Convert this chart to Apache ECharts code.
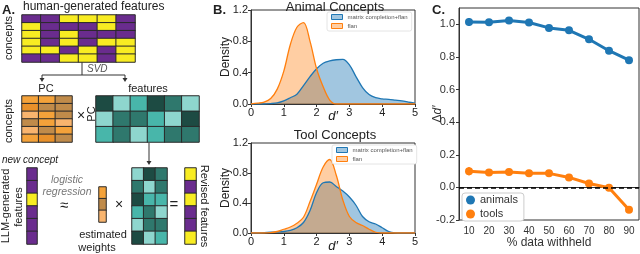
<!DOCTYPE html>
<html><head><meta charset="utf-8">
<script src="https://cdn.jsdelivr.net/npm/echarts@6/dist/echarts.min.js"></script>
<style>html,body{margin:0;padding:0;background:#fff}#c{width:640px;height:254px}</style>
</head><body><div id="c"></div>
<script>
// ---- Panel A matrices (row by row, top to bottom) ----
// binary: 0 = purple, 1 = yellow
const humanFeatures = [[0,0,1,1,1,0],[1,0,0,0,1,0],[1,0,1,0,0,0],[1,0,1,0,1,1],[1,1,0,1,0,1],[0,0,1,1,0,1]];
// orange shades: 0 light, 1 orange, 2 dark orange, 3 brown
const pcMatrix = [[1,1,3],[2,3,3],[0,1,3],[3,1,0],[0,3,1],[1,2,3]];
// teal shades: 0 dark, 1 mid, 2 turquoise, 3 light
const featMatrix = [[0,3,2,0,1,3],[3,1,1,2,3,0],[2,1,3,2,1,1]];
const llmFeatures = [0,0,1,0,0,0];
const estWeights = [1,3,0];
const featMatrix2 = [[3,0,1],[1,3,1],[0,2,2],[2,1,3],[3,1,1],[0,3,2]];
const revisedFeatures = [1,0,1,0,0,1];

// ---- Panel B densities ----
const densityX = [0,0.2,0.4,0.6,0.8,1.0,1.2,1.4,1.6,1.8,2.0,2.2,2.4,2.6,2.8,3.0,3.2,3.4,3.6,3.8,4.0,4.2,4.4,4.6,4.8,5.0];
const animalMC   = [0,0,0,0.005,0.015,0.04,0.08,0.125,0.235,0.35,0.45,0.52,0.55,0.565,0.57,0.5,0.35,0.21,0.12,0.08,0.065,0.06,0.05,0.04,0.025,0.01];
const animalFlan = [0,0.01,0.025,0.07,0.19,0.42,0.76,0.98,1.04,0.8,0.45,0.22,0.05,0,0,0,0,0,0,0,0,0,0,0,0,0];
const toolMC     = [0,0,0.005,0.01,0.015,0.02,0.035,0.07,0.14,0.3,0.54,0.67,0.68,0.62,0.56,0.48,0.37,0.22,0.15,0.12,0.07,0.02,0.003,0,0,0];
const toolFlan   = [0,0,0,0.005,0.02,0.05,0.08,0.13,0.21,0.42,0.65,0.88,0.98,0.77,0.44,0.22,0.14,0.1,0.05,0.01,0,0,0,0,0,0];

// ---- Panel C ----
const withheld = ['10','20','30','40','50','60','70','80','90'];
const animals = [1.014,1.012,1.024,1.011,0.978,0.963,0.908,0.838,0.78];
const animalsErr = [0.025,0.012,0.01,0.01,0.01,0.01,0.01,0.01,0.01];
const tools = [0.099,0.091,0.095,0.086,0.086,0.061,0.024,-0.002,-0.137];
const toolsErr = [0.025,0.02,0.015,0.012,0.012,0.012,0.012,0.012,0.012];

const FONT = "'Liberation Sans', Arial, sans-serif";
const BLUE = '#1f77b4', ORANGE = '#ff7f0e';

function range(n){return Array.from({length:n},(_,i)=>i);}
function cells(mat){const out=[];mat.forEach((row,r)=>row.forEach((v,c)=>out.push([c,r,v])));return out;}
function col(vec){return vec.map(v=>[v]);}

const mats = [
  {m: humanFeatures, box:[22,15,113,47]},
  {m: pcMatrix, box:[22,96,50,46]},
  {m: featMatrix, box:[96,96,103,46]},
  {m: col(llmFeatures), box:[27,168,10,76]},
  {m: col(estWeights), box:[99,187,7,35]},
  {m: featMatrix2, box:[132,168,35,76]},
  {m: col(revisedFeatures), box:[185,168,11,76]}
];

const grid = [], xAxis = [], yAxis = [], series = [];
mats.forEach((o,i)=>{
  grid.push({left:o.box[0], top:o.box[1], width:o.box[2], height:o.box[3]});
  xAxis.push({gridIndex:i, type:'category', data:range(o.m[0].length), show:false});
  yAxis.push({gridIndex:i, type:'category', data:range(o.m.length), inverse:true, show:false});
  series.push({type:'heatmap', xAxisIndex:i, yAxisIndex:i, data:cells(o.m), silent:true,
    itemStyle:{borderColor:'#2a2a2a', borderWidth:1}});
});

// Panel B grids (7, 8)
const axisTxt = {fontSize:11, color:'#222', fontFamily:FONT};
function densGrid(top, height, xGap){
  grid.push({left:251, top:top, width:164, height:height, show:true, borderColor:'#333', borderWidth:1, backgroundColor:'#fff'});
  const gi = grid.length-1;
  xAxis.push({gridIndex:gi, type:'value', min:0, max:5, interval:1, splitLine:{show:false},
    axisLine:{lineStyle:{color:'#333'}}, axisTick:{length:3, lineStyle:{color:'#333'}},
    axisLabel:Object.assign({margin:3}, axisTxt), nameMoveOverlap:false,
    name:'d\u2032', nameLocation:'middle', nameGap:xGap, nameTextStyle:{fontSize:13, fontStyle:'italic', color:'#222', fontFamily:FONT, verticalAlign:'top'}});
  yAxis.push({gridIndex:gi, type:'value', min:0, max:1.2, interval:0.4, splitLine:{show:false},
    axisLine:{show:true, lineStyle:{color:'#333'}}, axisTick:{show:true, length:3, lineStyle:{color:'#333'}},
    axisLabel:Object.assign({margin:3, formatter:v=>v.toFixed(1)}, axisTxt), nameMoveOverlap:false,
    name:'Density', nameLocation:'middle', nameGap:19, nameTextStyle:{fontSize:12, color:'#222', fontFamily:FONT}});
  return gi;
}
function dens(gi, name, arr, color, fill){
  series.push({name, type:'line', xAxisIndex:gi, yAxisIndex:gi, data:densityX.map((x,i)=>[x,arr[i]]),
    smooth:0.35, symbol:'none', silent:true, color,
    lineStyle:{color, width:1.3}, areaStyle:{color:fill, opacity:1}});
}
const gA = densGrid(10, 94, 6);
dens(gA, 'matrix completion+flan', animalMC, BLUE, 'rgba(31,119,180,0.42)');
dens(gA, 'flan', animalFlan, ORANGE, 'rgba(255,127,14,0.38)');
const gT = densGrid(143, 92, 7);
dens(gT, 'matrix completion+flan', toolMC, BLUE, 'rgba(31,119,180,0.42)');
dens(gT, 'flan', toolFlan, ORANGE, 'rgba(255,127,14,0.38)');

// Panel C grid (9)
grid.push({left:459, top:8, width:180, height:215, show:true, borderColor:'#333', borderWidth:1, backgroundColor:'#fff'});
const gC = grid.length-1;
xAxis.push({gridIndex:gC, type:'category', data:withheld, boundaryGap:true,
  axisLine:{lineStyle:{color:'#333'}}, axisTick:{alignWithLabel:true, length:3, lineStyle:{color:'#333'}},
  axisLabel:{fontSize:10, color:'#333', margin:6, fontFamily:FONT}, nameMoveOverlap:false,
  name:'% data withheld', nameLocation:'middle', nameGap:17, nameTextStyle:{fontSize:12, color:'#333', fontFamily:FONT, verticalAlign:'top'}});
yAxis.push({gridIndex:gC, type:'value', min:-0.2, max:1.1, interval:0.2, splitLine:{show:false},
  axisLine:{show:true, lineStyle:{color:'#333'}}, axisTick:{show:true, length:3, lineStyle:{color:'#333'}},
  axisLabel:{fontSize:11, color:'#333', margin:4, showMaxLabel:false, fontFamily:FONT, formatter:v=>v.toFixed(1)},
  nameMoveOverlap:false,
  name:'{d|\u0394}{i|d\u2032}', nameLocation:'middle', nameGap:15,
  nameTextStyle:{rich:{d:{fontSize:12, color:'#333', fontFamily:FONT}, i:{fontSize:12, fontStyle:'italic', color:'#333', fontFamily:FONT}}}});

function errBars(vals, errs, color){
  series.push({type:'custom', xAxisIndex:gC, yAxisIndex:gC, silent:true, z:3,
    data:vals.map((v,i)=>[i, v-errs[i], v+errs[i]]),
    renderItem:(params, api)=>{
      const a = api.coord([api.value(0), api.value(1)]);
      const b = api.coord([api.value(0), api.value(2)]);
      return {type:'line', shape:{x1:a[0], y1:a[1], x2:b[0], y2:b[1]}, style:{stroke:color, lineWidth:2}};
    }});
}
series.push({name:'animals', type:'line', xAxisIndex:gC, yAxisIndex:gC, data:animals, color:BLUE,
  symbol:'circle', symbolSize:8, lineStyle:{width:3, color:BLUE}, itemStyle:{color:BLUE}, silent:true, z:4});
series.push({name:'tools', type:'line', xAxisIndex:gC, yAxisIndex:gC, data:tools, color:ORANGE,
  symbol:'circle', symbolSize:8, lineStyle:{width:3, color:ORANGE}, itemStyle:{color:ORANGE}, silent:true, z:4,
  markLine:{silent:true, symbol:'none', label:{show:false}, lineStyle:{color:'#000', type:[5,3], width:1.5},
    data:[{yAxis:0}]}});
errBars(animals, animalsErr, BLUE);
errBars(tools, toolsErr, ORANGE);

// ---- Graphic annotations for panel A ----
const g = [];
function txt(t, x, y, o){
  o = o || {};
  g.push({type:'text', x, y, rotation:o.rot||0, z:10,
    style:{text:t, x:0, y:0, fill:o.fill||'#222', align:o.align||'center', verticalAlign:'middle',
      font:(o.style||'normal')+' '+(o.weight||'normal')+' '+(o.size||11)+'px '+FONT}});
}
function ln(x1,y1,x2,y2){g.push({type:'line', shape:{x1,y1,x2,y2}, style:{stroke:'#333', lineWidth:1}});}
function head(x,y){g.push({type:'polygon', shape:{points:[[x-2.5,y-4],[x+2.5,y-4],[x,y]]}, style:{fill:'#333'}});}

txt('A.', 2, 10, {align:'left', weight:'bold', size:13});
txt('human-generated features', 23, 7, {align:'left', size:12});
txt('concepts', 9, 38, {rot:Math.PI/2, size:11});
ln(82,62,82,75); ln(42,75,125,75); ln(42,75,42,80); ln(125,75,125,80);
head(42,82); head(125,82);
txt('SVD', 87, 69, {align:'left', style:'italic', size:10, fill:'#555'});
txt('PC', 46, 89, {size:11});
txt('features', 148, 89, {size:11});
txt('concepts', 9, 121, {rot:Math.PI/2, size:11});
txt('\u00d7', 81, 116, {size:14});
txt('PC', 92, 114, {rot:Math.PI/2, size:11});
ln(149,143,149,162); head(149,165);
txt('new concept', 2, 160, {align:'left', style:'italic', size:10});
txt('LLM-generated', 6, 206, {rot:Math.PI/2, size:11});
txt('features', 19, 207, {rot:Math.PI/2, size:11});
txt('logistic', 67, 180, {style:'italic', size:10.5, fill:'#777'});
txt('regression', 67, 192, {style:'italic', size:10.5, fill:'#777'});
txt('\u2248', 64, 206, {size:15});
txt('\u00d7', 119, 205, {size:14});
txt('estimated', 103, 235, {size:11});
txt('weights', 97, 248, {size:11});
txt('=', 174, 205, {size:15});
txt('Revised features', 204, 206, {rot:-Math.PI/2, size:11});
txt('B.', 213, 10, {align:'left', weight:'bold', size:13});
txt('C.', 432, 10, {align:'left', weight:'bold', size:13});

const bLegendItems = [
  {name:'matrix completion+flan', itemStyle:{color:'rgba(31,119,180,0.42)', borderColor:BLUE, borderWidth:1}},
  {name:'flan', itemStyle:{color:'rgba(255,127,14,0.38)', borderColor:ORANGE, borderWidth:1}}
];
function bLegend(left, top){
  return {left, top, orient:'vertical', data:bLegendItems, icon:'rect', itemWidth:11, itemHeight:5, itemGap:3,
    selectedMode:false, textStyle:{fontSize:6, color:'#555', fontFamily:FONT}, backgroundColor:'#fff',
    borderColor:'#ddd', borderWidth:0.8, borderRadius:2, padding:[2,4,2,4]};
}

const option = {
  animation:false,
  textStyle:{fontFamily:FONT},
  title:[
    {text:'Animal Concepts', left:330, top:-4, textAlign:'center', textStyle:{fontSize:13, fontWeight:'normal', color:'#222', fontFamily:FONT}},
    {text:'Tool Concepts', left:330, top:124, textAlign:'center', textStyle:{fontSize:13, fontWeight:'normal', color:'#222', fontFamily:FONT}}
  ],
  legend:[
    bLegend(327, 12),
    bLegend(332, 145),
    {left:462, top:193, orient:'vertical', data:['animals','tools'], icon:'circle', itemWidth:9, itemHeight:9, itemGap:2,
      selectedMode:false, textStyle:{fontSize:11, color:'#333', fontFamily:FONT, lineHeight:12}, backgroundColor:'#fff',
      borderColor:'#ccc', borderWidth:1, borderRadius:3, padding:[1,6,1,4]}
  ],
  visualMap:[
    {type:'piecewise', show:false, dimension:2, seriesIndex:[0,3,6],
      pieces:[{value:0, color:'#6a2c8e'},{value:1, color:'#f8ec22'}]},
    {type:'piecewise', show:false, dimension:2, seriesIndex:[1,4],
      pieces:[{value:0, color:'#f8b46e'},{value:1, color:'#f4a23a'},{value:2, color:'#e8902a'},{value:3, color:'#c08b4a'}]},
    {type:'piecewise', show:false, dimension:2, seriesIndex:[2,5],
      pieces:[{value:0, color:'#1d4b43'},{value:1, color:'#2f786d'},{value:2, color:'#48b6aa'},{value:3, color:'#8ed6ce'}]}
  ],
  grid, xAxis, yAxis, series,
  graphic: g
};
const chart = echarts.init(document.getElementById('c'), null, {renderer:'canvas'});
chart.setOption(option);
</script></body></html>
